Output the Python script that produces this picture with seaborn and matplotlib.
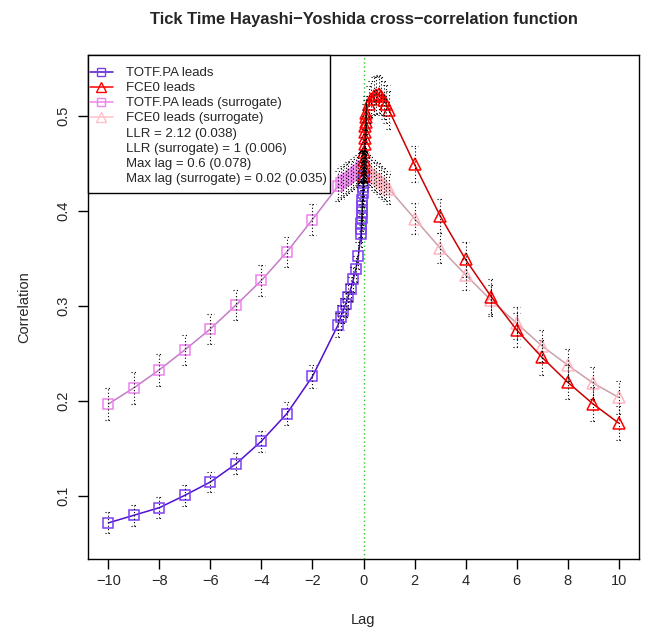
import matplotlib
matplotlib.use('Agg')
import matplotlib.pyplot as plt
import seaborn as sns
from matplotlib.lines import Line2D
from matplotlib.patches import Rectangle

# lags on the "TOTF.PA leads" side and on the "FCE0 leads" side
lags_neg = [-10, -9, -8, -7, -6, -5, -4, -3, -2, -1,
            -0.9, -0.8, -0.7, -0.6, -0.5, -0.4, -0.3, -0.2, -0.1,
            -0.09, -0.08, -0.07, -0.06, -0.05, -0.04, -0.03, -0.02, -0.01, 0]
lags_pos = [0, 0.01, 0.02, 0.03, 0.04, 0.05, 0.06, 0.07, 0.08, 0.09,
            0.1, 0.2, 0.3, 0.4, 0.5, 0.6, 0.7, 0.8, 0.9,
            1, 2, 3, 4, 5, 6, 7, 8, 9, 10]

totf_leads = [0.072, 0.080, 0.088, 0.101, 0.115, 0.134, 0.158, 0.187, 0.226, 0.280,
              0.288, 0.295, 0.302, 0.310, 0.318, 0.328, 0.339, 0.353, 0.376,
              0.381, 0.387, 0.393, 0.399, 0.405, 0.412, 0.419, 0.425, 0.431, 0.437]
fce0_leads = [0.437, 0.446, 0.454, 0.462, 0.470, 0.477, 0.483, 0.489, 0.494, 0.499,
              0.503, 0.512, 0.518, 0.521, 0.522, 0.523, 0.521, 0.517, 0.512,
              0.506, 0.449, 0.395, 0.349, 0.310, 0.275, 0.246, 0.220, 0.197, 0.177]
totf_surr = [0.197, 0.214, 0.233, 0.254, 0.276, 0.301, 0.327, 0.357, 0.391, 0.426,
             0.429, 0.431, 0.433, 0.435, 0.437, 0.439, 0.441, 0.443, 0.445,
             0.445, 0.445, 0.446, 0.446, 0.446, 0.446, 0.447, 0.447, 0.447, 0.447]
fce0_surr = [0.447, 0.448, 0.448, 0.448, 0.447, 0.447, 0.447, 0.446, 0.446, 0.446,
             0.445, 0.443, 0.441, 0.438, 0.436, 0.434, 0.431, 0.429, 0.426,
             0.423, 0.392, 0.361, 0.333, 0.306, 0.282, 0.258, 0.238, 0.219, 0.204]

# half widths of the dotted error bars
totf_leads_err = [0.011, 0.011, 0.011, 0.011, 0.011, 0.011, 0.011, 0.012, 0.012, 0.013,
                  0.013, 0.013, 0.013, 0.013, 0.013, 0.013, 0.014, 0.014, 0.014,
                  0.014, 0.014, 0.014, 0.014, 0.014, 0.015, 0.015, 0.015, 0.015, 0.015]
fce0_leads_err = [0.015, 0.015, 0.016, 0.016, 0.016, 0.017, 0.017, 0.017, 0.018, 0.018,
                  0.018, 0.019, 0.019, 0.020, 0.020, 0.020, 0.020, 0.020, 0.020,
                  0.020, 0.019, 0.018, 0.018, 0.018, 0.018, 0.018, 0.018, 0.018, 0.018]
totf_surr_err = [0.017, 0.017, 0.017, 0.016, 0.016, 0.016, 0.016, 0.016, 0.016, 0.016,
                 0.016, 0.016, 0.016, 0.016, 0.016, 0.016, 0.016, 0.016, 0.016,
                 0.016, 0.016, 0.016, 0.016, 0.016, 0.016, 0.016, 0.016, 0.016, 0.016]
fce0_surr_err = [0.016, 0.016, 0.016, 0.016, 0.016, 0.016, 0.016, 0.016, 0.016, 0.016,
                 0.016, 0.016, 0.016, 0.016, 0.016, 0.016, 0.016, 0.016, 0.016,
                 0.016, 0.016, 0.016, 0.016, 0.016, 0.017, 0.017, 0.017, 0.017, 0.017]

legend_labels = ['TOTF.PA leads', 'FCE0 leads', 'TOTF.PA leads (surrogate)',
                 'FCE0 leads (surrogate)', 'LLR = 2.12 (0.038)',
                 'LLR (surrogate) = 1 (0.006)', 'Max lag = 0.6 (0.078)',
                 'Max lag (surrogate) = 0.02 (0.035)']
x_ticks = [-10, -8, -6, -4, -2, 0, 2, 4, 6, 8, 10]
y_ticks = [0.1, 0.2, 0.3, 0.4, 0.5]

sns.set_style('ticks')
plt.rcParams['font.family'] = ['Liberation Sans', 'DejaVu Sans']

W, H = 651, 632
fig = plt.figure(figsize=(W / 100, H / 100), dpi=100)
ax = fig.add_axes([88 / W, 1 - 559 / H, (639 - 88) / W, (559 - 55) / H])

series = [
    (lags_neg, totf_surr, totf_surr_err, 's', '#c47ac8', '#ee82ee', 7.2),
    (lags_pos, fce0_surr, fce0_surr_err, '^', '#cca0a8', '#ffb6c1', 8.0),
    (lags_neg, totf_leads, totf_leads_err, 's', '#5010d0', '#7b3ff2', 7.2),
    (lags_pos, fce0_leads, fce0_leads_err, '^', '#cc0000', '#ff0000', 8.0),
]

for lags, vals, errs, mk, lc, mc, ms in series:
    sns.lineplot(x=lags, y=vals, ax=ax, color=lc, linewidth=1.1, estimator=None,
                 sort=False, marker=mk, markersize=ms, markerfacecolor='none',
                 markeredgecolor=mc, markeredgewidth=1.1, zorder=3)

# dotted confidence bars with dotted caps
for lags, vals, errs, mk, lc, mc, ms in series:
    lo = [v - e for v, e in zip(vals, errs)]
    hi = [v + e for v, e in zip(vals, errs)]
    left = [l - 0.12 for l in lags]
    right = [l + 0.12 for l in lags]
    ax.vlines(lags, lo, hi, colors='black', linestyles=(0, (1, 2)), linewidth=0.8, zorder=4)
    ax.hlines(lo, left, right, colors='black', linestyles=(0, (1, 2)), linewidth=0.8, zorder=4)
    ax.hlines(hi, left, right, colors='black', linestyles=(0, (1, 2)), linewidth=0.8, zorder=4)

ax.axvline(0, color='#22cc22', linestyle=(0, (1, 2)), linewidth=1.0, zorder=2)

ax.set_xlim(-10.8, 10.8)
ax.set_ylim(0.034, 0.564)
ax.set_xticks(x_ticks)
ax.set_xticklabels([str(t).replace('-', '\u2212') for t in x_ticks])
ax.set_yticks(y_ticks)
ax.set_yticklabels([str(t) for t in y_ticks], rotation=90, va='center')
ax.tick_params(axis='both', length=7, width=1, color='black', labelsize=10.5)
ax.tick_params(axis='x', pad=4)
ax.tick_params(axis='y', pad=6)
for sp in ax.spines.values():
    sp.set_visible(True)
    sp.set_color('black')
    sp.set_linewidth(1)

ax.set_xlabel('Lag', fontsize=10.5, labelpad=18)
ax.set_ylabel('Correlation', fontsize=10.5, labelpad=18)
ax.set_title('Tick Time Hayashi\u2212Yoshida cross\u2212correlation function',
             fontsize=11.9, fontweight='bold', pad=22)

# legend box drawn by hand, as R puts the text well inside its frame
box = Rectangle((88 / W, 1 - 193 / H), (330 - 88) / W, (193 - 55) / H,
                transform=fig.transFigure, facecolor='white', edgecolor='black',
                linewidth=1, zorder=9, clip_on=False)
ax.add_patch(box)

handles = [
    Line2D([], [], color='#5010d0', marker='s', markerfacecolor='none',
           markeredgecolor='#7b3ff2', markersize=6, linewidth=1.1),
    Line2D([], [], color='#ff0000', marker='^', markerfacecolor='none',
           markeredgecolor='#ff0000', markersize=7, linewidth=1.1),
    Line2D([], [], color='#ee82ee', marker='s', markerfacecolor='none',
           markeredgecolor='#ee82ee', markersize=6, linewidth=1.1),
    Line2D([], [], color='#ffc0cb', marker='^', markerfacecolor='none',
           markeredgecolor='#ffc0cb', markersize=7, linewidth=1.1),
]
handles += [Line2D([], [], linestyle='none') for _ in range(4)]
leg = ax.legend(handles, legend_labels, loc='upper left',
                bbox_to_anchor=(90 / W, 1 - 67 / H), bbox_transform=fig.transFigure,
                frameon=False, borderaxespad=0, borderpad=0,
                handlelength=23 / 13.2, handletextpad=13 / 13.2,
                labelspacing=0.215, fontsize=9.5)
leg.set_zorder(10)

fig.savefig('out.png', dpi=100)
